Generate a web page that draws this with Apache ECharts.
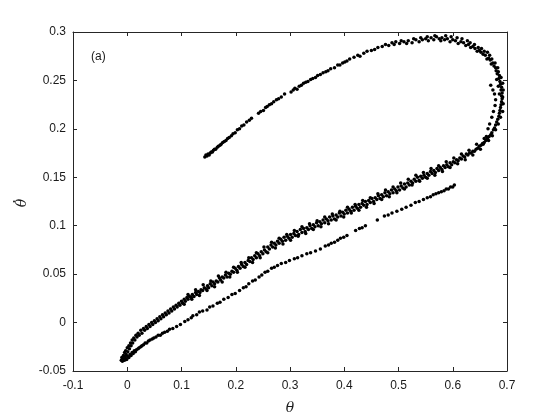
<!DOCTYPE html>
<html>
<head>
<meta charset="utf-8">
<script src="https://cdn.jsdelivr.net/npm/echarts@6/dist/echarts.min.js"></script>
<style>
  html, body { margin: 0; padding: 0; background: #fff; }
  #chart { width: 560px; height: 420px; }
</style>
</head>
<body>
<div id="chart"></div>
<script>
// theta / theta-dot samples, one array per stretch of the orbit
const upperBand = [
  [-0.011,-0.039],[-0.010,-0.036],[-0.009,-0.040],[-0.008,-0.037],[-0.007,-0.034],[-0.006,-0.038],[-0.005,-0.031],[-0.004,-0.035],
  [-0.003,-0.029],[-0.002,-0.033],[0.000,-0.026],[0.001,-0.030],[0.003,-0.024],[0.004,-0.027],[0.006,-0.021],[0.007,-0.024],
  [0.009,-0.018],[0.010,-0.021],[0.012,-0.016],[0.014,-0.018],[0.016,-0.013],[0.018,-0.015],[0.020,-0.011],[0.022,-0.013],
  [0.025,-0.008],[0.027,-0.011],[0.030,-0.006],[0.032,-0.008],[0.035,-0.004],[0.037,-0.006],[0.040,-0.002],[0.042,-0.004],
  [0.045,0.000],[0.047,-0.002],[0.050,0.002],[0.052,0.000],[0.055,0.004],[0.057,0.002],[0.060,0.006],[0.062,0.004],
  [0.065,0.008],[0.067,0.006],[0.070,0.010],[0.072,0.008],[0.075,0.012],[0.077,0.010],[0.080,0.014],[0.082,0.012],
  [0.085,0.016],[0.087,0.014],[0.090,0.018],[0.092,0.016],[0.095,0.020],[0.097,0.018],[0.100,0.022],[0.102,0.020],
  [0.105,0.024],[0.107,0.022],[0.110,0.026],[0.112,0.024],[0.115,0.027],[0.118,0.026],[0.120,0.029],[0.123,0.027],
  [0.126,0.031],[0.128,0.029],[0.131,0.032],[0.134,0.031],[0.136,0.034],[0.139,0.033],[0.142,0.036],[0.145,0.035],
  [0.148,0.038],[0.150,0.036],[0.153,0.040],[0.156,0.038],[0.158,0.042],[0.161,0.040],[0.164,0.043],[0.167,0.042],
  [0.170,0.046],[0.172,0.044],[0.175,0.047],[0.178,0.046],[0.181,0.049],[0.184,0.047],[0.187,0.051],[0.190,0.050],
  [0.193,0.053],[0.196,0.052],[0.199,0.056],[0.202,0.054],[0.205,0.058],[0.208,0.056],[0.211,0.060],[0.214,0.058],
  [0.217,0.062],[0.220,0.060],[0.223,0.064],[0.226,0.063],[0.229,0.067],[0.232,0.065],[0.235,0.069],[0.238,0.067],
  [0.241,0.071],[0.244,0.069],[0.247,0.073],[0.250,0.071],[0.253,0.075],[0.256,0.073],[0.259,0.078],[0.262,0.076],
  [0.265,0.080],[0.268,0.078],[0.271,0.082],[0.274,0.080],[0.277,0.084],[0.280,0.082],[0.283,0.086],[0.286,0.084],
  [0.289,0.088],[0.292,0.085],[0.295,0.089],[0.298,0.087],[0.301,0.091],[0.304,0.088],[0.307,0.092],[0.310,0.090],
  [0.313,0.094],[0.316,0.091],[0.319,0.096],[0.322,0.093],[0.325,0.097],[0.328,0.094],[0.331,0.098],[0.334,0.096],
  [0.337,0.100],[0.340,0.097],[0.343,0.101],[0.346,0.099],[0.349,0.103],[0.352,0.100],[0.355,0.104],[0.358,0.102],
  [0.361,0.106],[0.364,0.103],[0.367,0.107],[0.370,0.105],[0.373,0.109],[0.376,0.106],[0.379,0.110],[0.382,0.107],
  [0.385,0.111],[0.388,0.109],[0.391,0.113],[0.394,0.110],[0.397,0.114],[0.400,0.112],[0.403,0.116],[0.406,0.113],
  [0.409,0.117],[0.412,0.115],[0.415,0.119],[0.418,0.116],[0.421,0.120],[0.424,0.118],[0.427,0.122],[0.430,0.119],
  [0.433,0.123],[0.436,0.121],[0.439,0.125],[0.442,0.122],[0.445,0.126],[0.448,0.124],[0.451,0.128],[0.454,0.125],
  [0.457,0.129],[0.460,0.127],[0.463,0.131],[0.466,0.128],[0.469,0.132],[0.472,0.130],[0.475,0.134],[0.478,0.131],
  [0.481,0.135],[0.484,0.133],[0.487,0.137],[0.490,0.134],[0.493,0.138],[0.496,0.136],[0.499,0.140],[0.502,0.137],
  [0.505,0.141],[0.508,0.139],[0.511,0.143],[0.514,0.140],[0.517,0.144],[0.520,0.142],[0.523,0.146],[0.526,0.144],
  [0.529,0.148],[0.532,0.146],[0.535,0.150],[0.538,0.147],[0.541,0.151],[0.544,0.149],[0.547,0.152],[0.550,0.150],
  [0.553,0.154],[0.556,0.152],[0.559,0.156],[0.562,0.154],[0.565,0.157],[0.568,0.155],[0.571,0.159],[0.574,0.157],
  [0.577,0.160],[0.580,0.158],[0.583,0.162],[0.586,0.160],[0.589,0.163],[0.592,0.161],[0.595,0.165],[0.598,0.163],
  [0.601,0.166],[0.604,0.165],[0.607,0.168],[0.610,0.167],[0.613,0.170],[0.616,0.169],[0.619,0.172],[0.622,0.171],
  [0.625,0.174],[0.628,0.173],[0.631,0.175],[0.634,0.175],[0.637,0.177],[0.640,0.177]
];

// stray points on either side of the dense band
const bandSpread = [
  [0.105,0.019],[0.112,0.029],[0.119,0.024],[0.126,0.034],[0.133,0.028],[0.140,0.039],[0.147,0.033],[0.154,0.043],
  [0.161,0.037],[0.168,0.048],[0.175,0.042],[0.182,0.052],[0.189,0.047],[0.196,0.057],[0.203,0.052],[0.210,0.062],
  [0.217,0.057],[0.224,0.067],[0.231,0.062],[0.238,0.072],[0.245,0.067],[0.252,0.078],[0.259,0.072],[0.266,0.083],
  [0.273,0.077],[0.280,0.087],[0.287,0.081],[0.294,0.091],[0.301,0.085],[0.308,0.095],[0.315,0.089],[0.322,0.099],
  [0.329,0.092],[0.336,0.102],[0.343,0.096],[0.350,0.105],[0.357,0.099],[0.364,0.109],[0.371,0.102],[0.378,0.112],
  [0.385,0.106],[0.392,0.115],[0.399,0.109],[0.406,0.119],[0.413,0.113],[0.420,0.122],[0.427,0.116],[0.434,0.126],
  [0.441,0.119],[0.448,0.129],[0.455,0.123],[0.462,0.133],[0.469,0.127],[0.476,0.137],[0.483,0.130],[0.490,0.140],
  [0.497,0.134],[0.504,0.144],[0.511,0.138],[0.518,0.148],[0.525,0.142],[0.532,0.152],[0.539,0.146],[0.546,0.155],
  [0.553,0.149],[0.560,0.159],[0.567,0.152],[0.574,0.162],[0.581,0.156],[0.588,0.166],[0.595,0.160],[0.602,0.170],
  [0.609,0.164],[0.616,0.174],[0.623,0.168],[0.630,0.178],[0.637,0.173],[0.644,0.184],[0.651,0.179],[0.658,0.190]
];

const rightTurn = [
  [0.643,0.179],[0.646,0.180],[0.649,0.182],[0.652,0.183],[0.655,0.185],[0.658,0.186],[0.661,0.188],[0.664,0.190],
  [0.667,0.192],[0.670,0.194],[0.672,0.196],[0.675,0.199],[0.677,0.201],[0.679,0.204],[0.681,0.207],[0.683,0.210],
  [0.685,0.213],[0.686,0.216],[0.687,0.219],[0.688,0.222],[0.689,0.225],[0.690,0.228],[0.691,0.231],[0.690,0.234],
  [0.691,0.237],[0.689,0.240],[0.690,0.243],[0.688,0.246],[0.687,0.249],[0.685,0.252],[0.686,0.255],[0.682,0.257],
  [0.680,0.260],[0.679,0.263],[0.676,0.265],[0.674,0.268],[0.671,0.267],[0.669,0.271],[0.666,0.273],[0.663,0.272],
  [0.660,0.276],[0.656,0.277],[0.652,0.279],[0.649,0.281],[0.645,0.280],[0.641,0.283],[0.637,0.285],[0.633,0.284],
  [0.629,0.287],[0.624,0.286],[0.620,0.289],[0.615,0.290],[0.610,0.288],[0.605,0.291],[0.600,0.292],[0.595,0.290],
  [0.590,0.293],[0.585,0.292],[0.580,0.294],[0.575,0.293],[0.570,0.295],[0.565,0.292],[0.560,0.294],[0.555,0.291],
  [0.550,0.293],[0.544,0.292],[0.538,0.290],[0.532,0.292],[0.525,0.289],[0.518,0.291],[0.510,0.290],[0.502,0.288],
  [0.495,0.290],[0.488,0.289],
  [0.666,0.188],[0.673,0.193],[0.679,0.199],[0.684,0.205],[0.688,0.212],[0.692,0.218],[0.693,0.226],[0.692,0.233],
  [0.693,0.240],[0.692,0.247],[0.689,0.253],[0.684,0.259],[0.683,0.263],[0.678,0.268],[0.672,0.272],[0.668,0.276],
  [0.664,0.279],[0.658,0.280],[0.653,0.283],[0.647,0.284],[0.640,0.287],[0.632,0.289],[0.627,0.291],[0.617,0.293],
  [0.608,0.294],[0.597,0.295],[0.587,0.296],[0.578,0.291],[0.567,0.296],[0.553,0.295],[0.541,0.294],[0.528,0.293],
  [0.515,0.288],[0.505,0.291],[0.492,0.287],[0.686,0.236],[0.684,0.244],[0.681,0.251]
];

const innerTrack = [
  [0.656,0.184],[0.662,0.192],[0.665,0.200],[0.668,0.205],[0.672,0.212],[0.675,0.218],
  [0.678,0.224],[0.679,0.230],[0.677,0.236],[0.674,0.240],[0.670,0.245]
];

const returnArm = [
  [0.143,0.171],[0.145,0.173],[0.147,0.172],[0.149,0.174],[0.151,0.173],[0.153,0.175],[0.155,0.176],[0.157,0.176],
  [0.159,0.178],[0.161,0.179],[0.163,0.179],[0.166,0.181],[0.168,0.182],[0.171,0.183],[0.173,0.184],[0.176,0.186],
  [0.179,0.187],[0.182,0.188],[0.185,0.190],[0.188,0.191],[0.192,0.193],[0.195,0.195],[0.199,0.196],[0.203,0.199],
  [0.207,0.200],[0.211,0.203],[0.215,0.204],[0.220,0.207],[0.225,0.209],[0.229,0.211],
  [0.242,0.216],[0.246,0.218],[0.251,0.219],[0.255,0.222],[0.258,0.223],[0.262,0.225],[0.266,0.226],[0.270,0.228],
  [0.275,0.230],[0.279,0.231],[0.284,0.233],[0.290,0.236],
  [0.302,0.238],[0.306,0.240],[0.309,0.242],[0.313,0.241],[0.317,0.244],[0.321,0.245],[0.325,0.247],[0.329,0.248],
  [0.333,0.249],[0.338,0.251],[0.342,0.252],[0.347,0.253],[0.351,0.255],[0.356,0.256],[0.361,0.258],[0.366,0.259],
  [0.370,0.260],[0.375,0.262],[0.382,0.263],[0.388,0.266],[0.392,0.266],[0.397,0.268],[0.401,0.269],[0.405,0.270],
  [0.410,0.272],[0.418,0.274],[0.425,0.276],[0.429,0.275],[0.436,0.278],[0.442,0.280],[0.450,0.281],[0.456,0.282],
  [0.462,0.284],[0.470,0.285],[0.476,0.287],[0.482,0.286]
];

const lowerBranch = [
  [-0.005,-0.039],[-0.003,-0.037],[-0.001,-0.038],[0.001,-0.035],[0.003,-0.036],[0.005,-0.033],[0.007,-0.034],[0.009,-0.031],
  [0.011,-0.032],[0.013,-0.029],[0.015,-0.030],[0.017,-0.028],[0.020,-0.027],[0.022,-0.026],[0.025,-0.025],[0.027,-0.024],
  [0.030,-0.023],[0.033,-0.021],[0.036,-0.021],[0.039,-0.019],[0.042,-0.018],[0.046,-0.017],[0.049,-0.016],[0.053,-0.015],
  [0.057,-0.013],[0.061,-0.013],[0.065,-0.011],[0.069,-0.010],[0.074,-0.009],[0.078,-0.007],[0.084,-0.006],[0.091,-0.004],
  [0.098,-0.002],[0.106,0.001],[0.112,0.003],[0.118,0.005],[0.121,0.007],[0.128,0.008],[0.133,0.011],[0.139,0.012],
  [0.147,0.013],[0.152,0.016],[0.158,0.017],[0.166,0.020],[0.171,0.021],[0.178,0.024],[0.186,0.026],[0.193,0.029],
  [0.199,0.030],[0.207,0.033],[0.214,0.036],[0.219,0.037],[0.224,0.040],[0.231,0.043],[0.236,0.044],[0.243,0.047],
  [0.248,0.049],[0.254,0.052],[0.259,0.053],[0.266,0.056],[0.271,0.057],[0.277,0.059],[0.284,0.061],[0.292,0.062],
  [0.299,0.064],[0.308,0.066],[0.314,0.067],[0.322,0.069],[0.331,0.071],[0.338,0.072],[0.347,0.074],[0.356,0.076],
  [0.365,0.079],[0.371,0.080],[0.376,0.082],[0.382,0.083],[0.388,0.085],[0.393,0.087],[0.399,0.088],[0.405,0.090],
  [0.421,0.095],[0.428,0.097],[0.433,0.098],[0.439,0.100],[0.461,0.106],[0.474,0.110],[0.481,0.111],[0.488,0.113],
  [0.497,0.115],[0.506,0.117],[0.514,0.119],[0.523,0.121],[0.531,0.124],[0.538,0.125],[0.546,0.127],[0.553,0.129],
  [0.559,0.130],[0.564,0.132],[0.569,0.133],[0.574,0.134],[0.579,0.135],[0.584,0.136],[0.588,0.138],[0.592,0.138],
  [0.596,0.140],[0.600,0.140],[0.603,0.142]
];

// axis ranges: [min, max, step]
const xRange = [-0.1, 0.7, 0.1];
const yRange = [-0.05, 0.3, 0.05];

const chart = echarts.init(document.getElementById('chart'));

const font = 'Liberation Sans, Arial, sans-serif';
const serif = 'DejaVu Serif, Liberation Serif, serif';
const axisCol = '#262626';

function frameAxis(pos, range, main) {
  return {
    type: 'value',
    position: pos,
    min: range[0],
    max: range[1],
    interval: range[2],
    axisLine: { show: true, onZero: false, lineStyle: { color: axisCol, width: 1 } },
    axisTick: { show: true, inside: true, length: 4, lineStyle: { color: axisCol } },
    axisLabel: { show: main, color: '#1a1a1a', fontFamily: font, fontSize: 12, margin: 9 },
    splitLine: { show: false }
  };
}

const xMain = frameAxis('bottom', xRange, true);
xMain.name = 'θ';
xMain.nameLocation = 'middle';
xMain.nameGap = 30;
xMain.nameTextStyle = { fontFamily: serif, fontStyle: 'italic', fontSize: 14, color: '#1a1a1a' };

const yMain = frameAxis('left', yRange, true);
yMain.axisLabel.margin = 7;

function dots(data) {
  return {
    type: 'scatter',
    data: data,
    symbol: 'circle',
    symbolSize: 3.5,
    itemStyle: { color: '#000', opacity: 1 },
    silent: true
  };
}

chart.setOption({
  animation: false,
  grid: { left: 73, right: 53, top: 32, bottom: 46 },
  xAxis: [xMain, frameAxis('top', xRange, false)],
  yAxis: [yMain, frameAxis('right', yRange, false)],
  series: [
    dots(upperBand),
    dots(bandSpread),
    dots(rightTurn),
    dots(innerTrack),
    dots(returnArm),
    dots(lowerBranch)
  ],
  graphic: [
    {
      type: 'text',
      left: 91,
      top: 51,
      style: { text: '(a)', fontFamily: font, fontSize: 12, fill: '#1a1a1a' }
    },
    {
      // y-axis name: theta with a dot above, turned to read upwards
      type: 'group',
      x: 22,
      y: 203,
      rotation: Math.PI / 2,
      children: [
        {
          type: 'text',
          x: 0,
          y: 0,
          style: { text: 'θ', fontFamily: serif, fontStyle: 'italic', fontSize: 14, fill: '#1a1a1a', align: 'center', verticalAlign: 'middle' }
        },
        {
          type: 'circle',
          shape: { cx: 1.5, cy: -8, r: 1 },
          style: { fill: '#1a1a1a' }
        }
      ]
    }
  ]
});
</script>
</body>
</html>
